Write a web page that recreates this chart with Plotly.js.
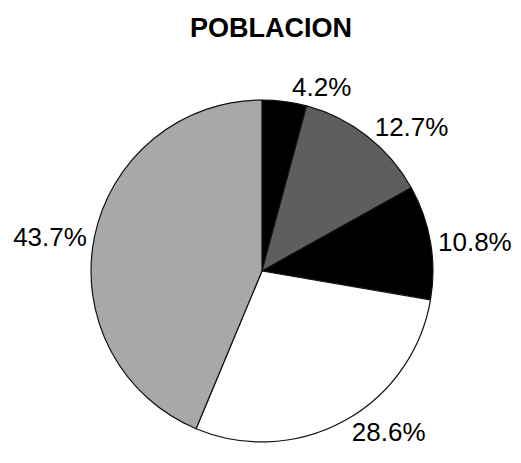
<!DOCTYPE html>
<html><head><meta charset="utf-8">
<script src="https://cdn.plot.ly/plotly-3.0.1.min.js"></script>
<style>html,body{margin:0;padding:0;background:#fff}</style>
</head><body>
<div id="chart" style="width:521px;height:463px"></div>
<script>
const categories = ["A", "B", "C", "D", "E"];
const values = [4.2, 12.7, 10.8, 28.6, 43.7];
const labelsText = ["4.2%", "12.7%", "10.8%", "28.6%", "43.7%"];
const colors = ["#000000", "#5e5e5e", "#000000", "#ffffff", "#a8a8a8"];

Plotly.newPlot("chart", [{
  type: "pie",
  labels: categories,
  values: values,
  text: labelsText,
  textinfo: "text",
  texttemplate: "%{text}",
  textposition: "outside",
  sort: false,
  direction: "clockwise",
  rotation: 0,
  marker: {colors: colors, line: {color: "#111", width: 1.2}},
  textfont: {family: "Liberation Sans, Arial", size: 26, color: "#000"},
  outsidetextfont: {family: "Liberation Sans, Arial", size: 26, color: "#000"},
  hole: 0,
  automargin: false,
  domain: {x: [0.1747, 0.831], y: [0.0454, 0.784]},
  showlegend: false
}], {
  width: 521, height: 463,
  margin: {l: 0, r: 0, t: 0, b: 0},
  paper_bgcolor: "#fff",
  title: {text: "<b>POBLACION</b>", x: 0.52, xanchor: "center", y: 0.94, yanchor: "middle",
          font: {family: "Liberation Sans, Arial", size: 27, color: "#000"}},
  showlegend: false
}, {displayModeBar: false, staticPlot: true});
</script>
</body></html>
